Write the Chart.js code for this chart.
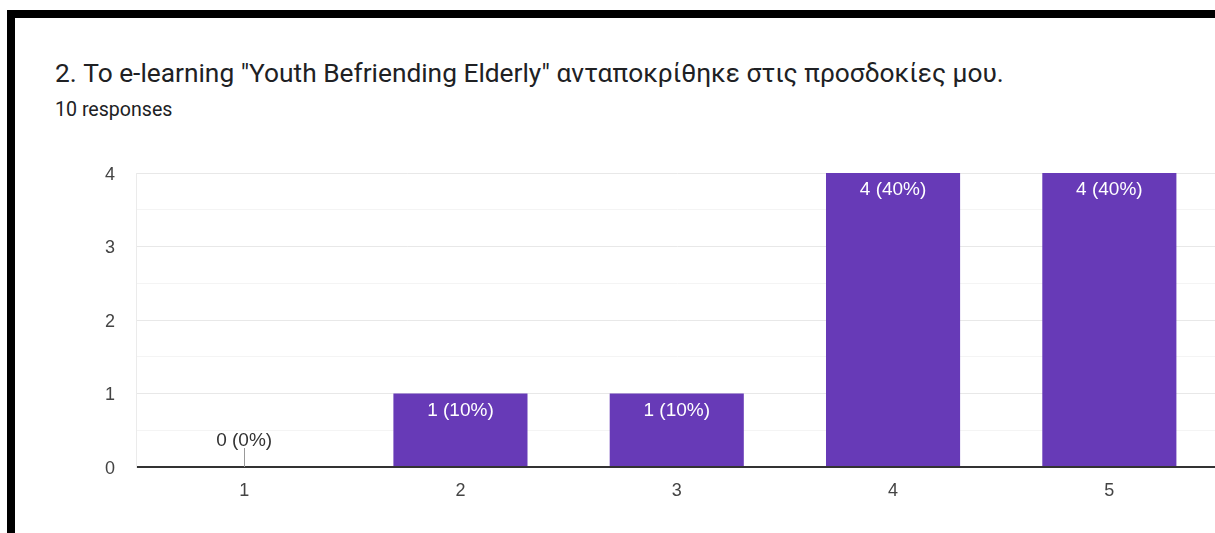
<!DOCTYPE html>
<html>
<head>
<meta charset="utf-8">
<script src="https://cdn.jsdelivr.net/npm/chart.js@4"></script>
<style>
  html, body { margin: 0; padding: 0; background: #fff; overflow: hidden; }
  #page { position: relative; width: 1215px; height: 533px; overflow: hidden; }
  .frameTop { position: absolute; left: 7px; top: 10px; width: 1300px; height: 8px; background: #000; }
  .frameLeft { position: absolute; left: 7px; top: 10px; width: 8px; height: 600px; background: #000; }
  #title { position: absolute; left: 55px; top: 58px; font: 26.3px Roboto, sans-serif; line-height: 30px; color: #202124; white-space: nowrap; }
  #sub { position: absolute; left: 55px; top: 99px; font: 19.6px Roboto, sans-serif; line-height: 22px; color: #202124; white-space: nowrap; }
  #chartWrap { position: absolute; left: 0; top: 0; width: 1240px; height: 533px; }
</style>
</head>
<body>
<div id="page">
  <div class="frameTop"></div>
  <div class="frameLeft"></div>
  <div id="title">2. Το e-learning "Youth Befriending Elderly" ανταποκρίθηκε στις προσδοκίες μου.</div>
  <div id="sub">10 responses</div>
  <div id="chartWrap"><canvas id="responsesChart" width="1240" height="533"></canvas></div>
</div>
<script>
const categories = ['1', '2', '3', '4', '5'];
const counts = [0, 1, 1, 4, 4];
const totalResponses = 10;
const yTicks = [0, 1, 2, 3, 4];

// labels like "4 (40%)" drawn on top of bars
const barLabels = {
  id: 'barLabels',
  afterDatasetsDraw(chart) {
    const ctx = chart.ctx;
    const meta = chart.getDatasetMeta(0);
    ctx.save();
    ctx.font = '19px "Liberation Sans", Arial, sans-serif';
    ctx.textAlign = 'center';
    ctx.textBaseline = 'middle';
    meta.data.forEach((bar, i) => {
      const v = counts[i];
      const text = v + ' (' + Math.round(v / totalResponses * 100) + '%)';
      if (v > 0) {
        ctx.fillStyle = '#ffffff';
        ctx.fillText(text, bar.x, bar.y + 17);
      } else {
        ctx.strokeStyle = '#999999';
        ctx.lineWidth = 1;
        ctx.beginPath();
        ctx.moveTo(Math.round(bar.x) + 0.5, bar.base);
        ctx.lineTo(Math.round(bar.x) + 0.5, bar.base - 19);
        ctx.stroke();
        ctx.fillStyle = '#333333';
        ctx.fillText(text, bar.x, bar.base - 26);
      }
    });
    ctx.restore();
  }
};

const ctx = document.getElementById('responsesChart').getContext('2d');
new Chart(ctx, {
  type: 'bar',
  data: {
    labels: categories,
    datasets: [{
      data: counts,
      backgroundColor: '#673ab7',
      borderWidth: 0,
      categoryPercentage: 1,
      barPercentage: 0.62
    }]
  },
  options: {
    responsive: false,
    animation: false,
    devicePixelRatio: 1,
    layout: { padding: { left: 0, top: 173, right: 22.5, bottom: 26 } },
    plugins: { legend: { display: false }, tooltip: { enabled: false } },
    scales: {
      x: {
        grid: { display: false, drawTicks: false },
        border: { display: false },
        ticks: { color: '#444', padding: 13, font: { family: '"Liberation Sans", Arial, sans-serif', size: 18 } },
        afterFit: scale => { scale.height = 40; }
      },
      y: {
        min: 0,
        max: 4,
        ticks: {
          stepSize: 0.5,
          padding: 21,
          labelOffset: 2,
          color: '#444',
          font: { family: '"Liberation Sans", Arial, sans-serif', size: 18 },
          callback: v => yTicks.includes(v) ? String(v) : ''
        },
        grid: {
          drawTicks: false,
          color: c => c.tick.value === 0 ? '#333333' : (Number.isInteger(c.tick.value) ? '#e8e8e8' : '#f4f4f4'),
          lineWidth: c => c.tick.value === 0 ? 2 : 1
        },
        border: { display: true, color: '#ebebeb' },
        afterFit: scale => { scale.width = 136; }
      }
    }
  },
  plugins: [barLabels]
});
</script>
</body>
</html>
